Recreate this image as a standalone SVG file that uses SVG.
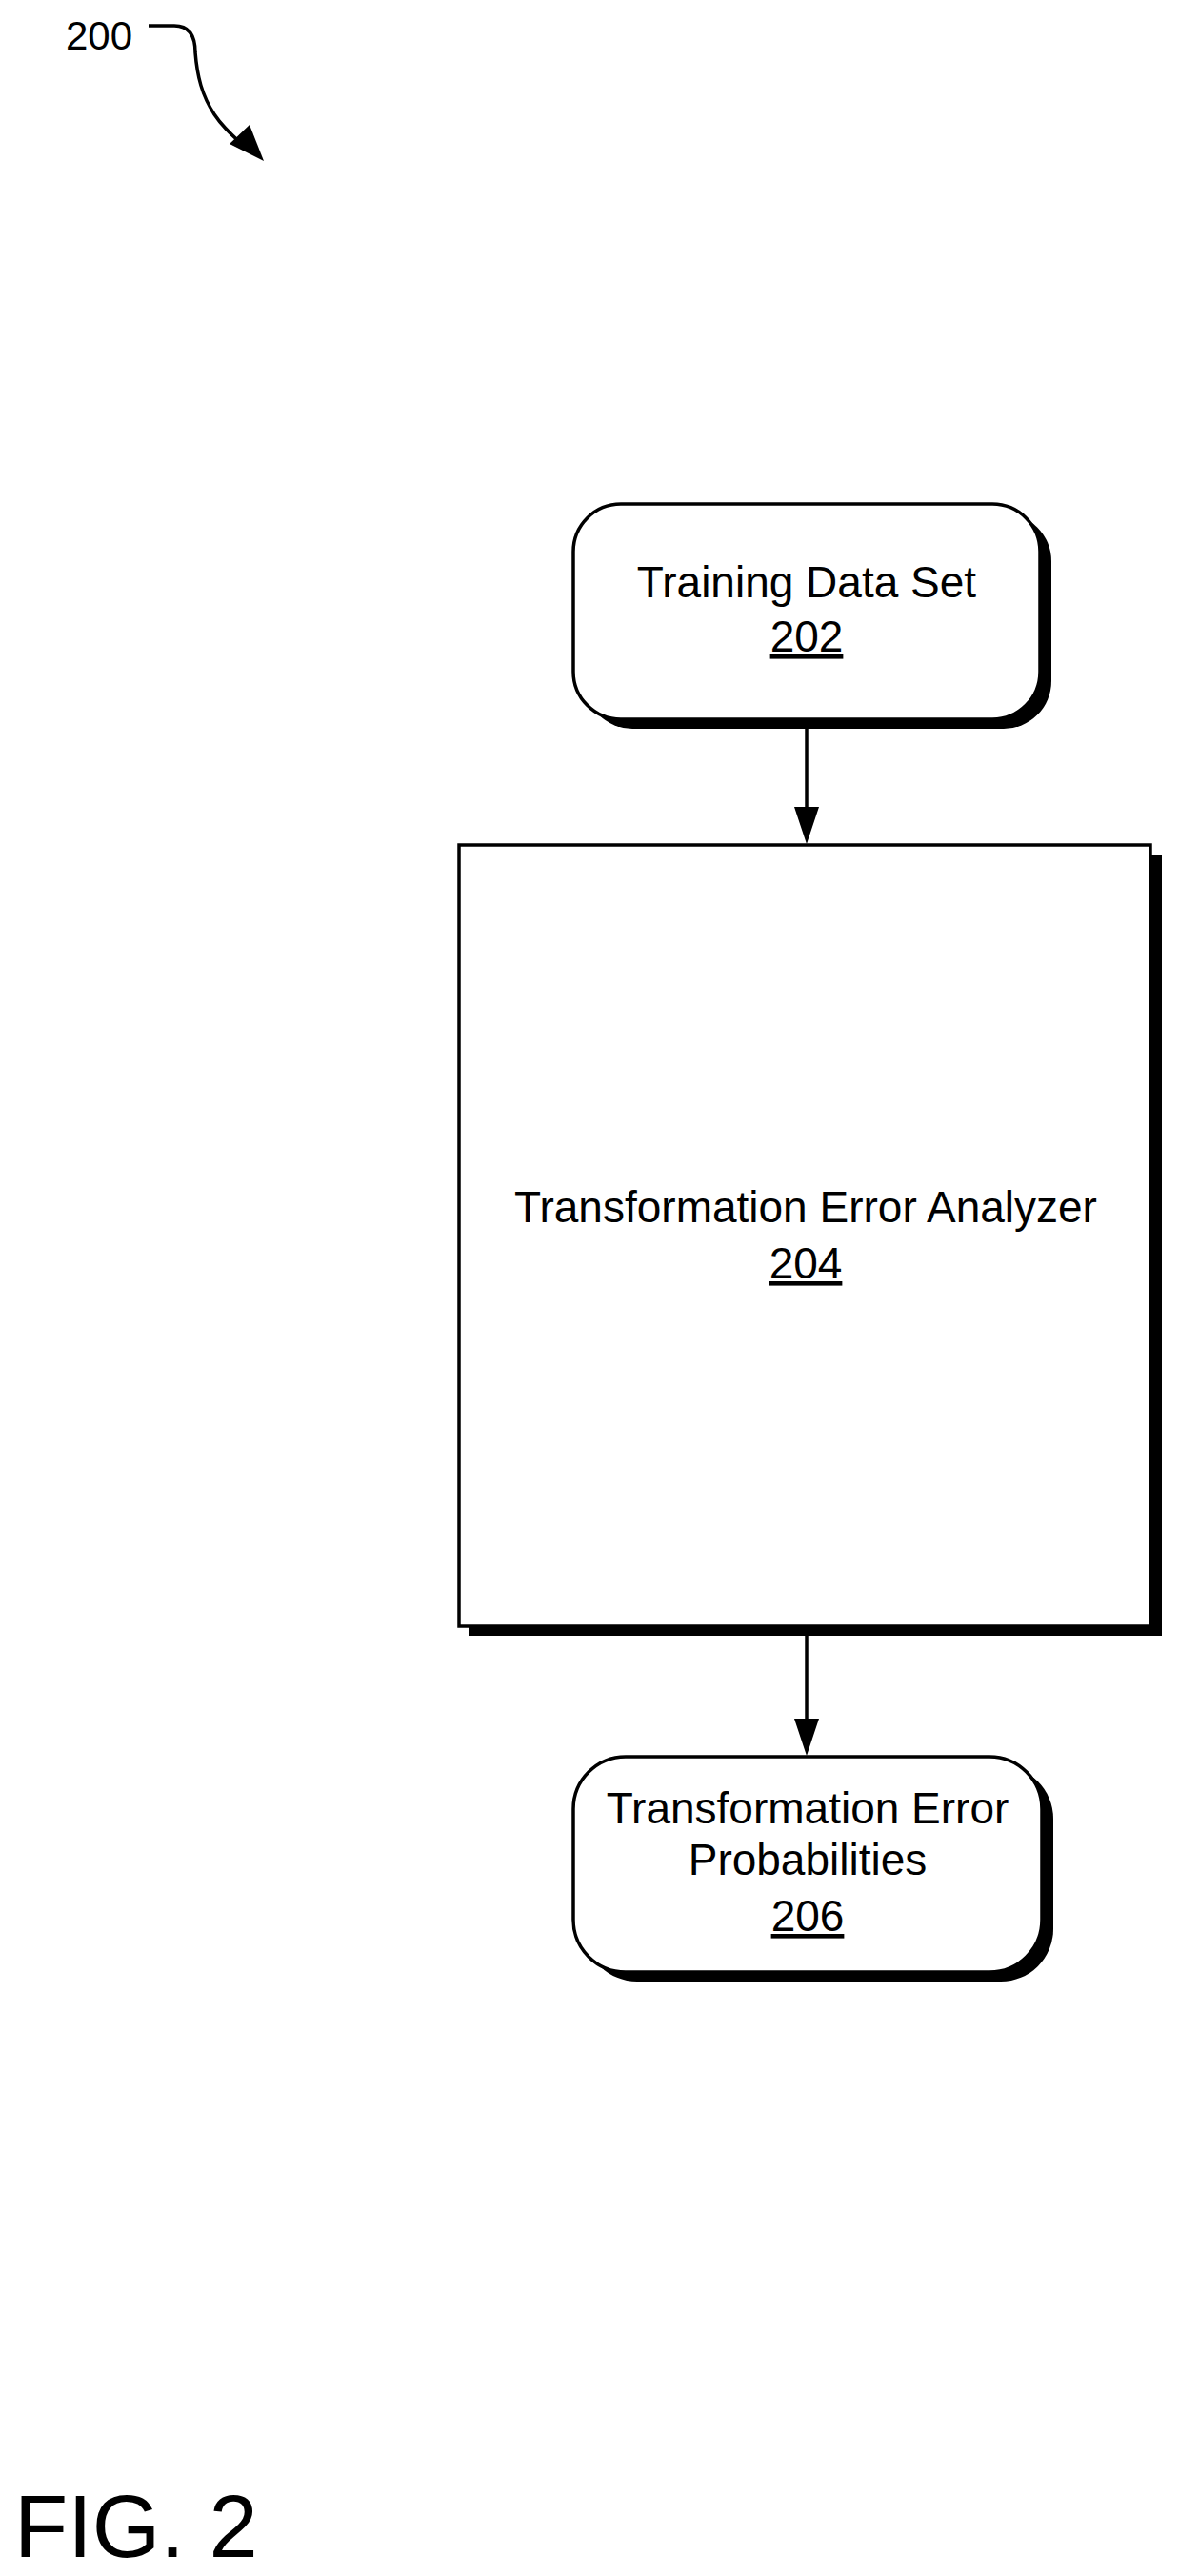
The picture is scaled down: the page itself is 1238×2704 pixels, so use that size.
<svg xmlns="http://www.w3.org/2000/svg" width="1238" height="2704" viewBox="0 0 1238 2704">
<style>
text{font-family:"Liberation Sans",Arial,sans-serif;font-size:46px;fill:#000;text-anchor:middle}
.box{fill:#fff;stroke:#000;stroke-width:3.5}
.sh{fill:#000}
.ln{stroke:#000;stroke-width:3.5;fill:none}
</style>
<rect width="1238" height="2704" fill="#fff"/>
<g id="ref200">
<text x="104" y="52" style="font-size:42px">200</text>
<path class="ln" d="M156,27 L183,27 C200,27 205,40 205,55 C207,80 212,100 225,120 C235,135 245,143 258,155"/>
<path d="M241,151 L262,131 L277,169 Z" fill="#000"/>
</g>
<g id="n202">
<rect class="sh" x="614" y="539" width="490" height="226" rx="50"/>
<rect class="box" x="602" y="529" width="490" height="226" rx="50"/>
<text x="847" y="627">Training Data Set</text>
<text x="847" y="684" text-decoration="underline">202</text>
</g>
<g id="n204">
<rect class="sh" x="492" y="897" width="728" height="820"/>
<rect class="box" x="482" y="887" width="726" height="820"/>
<text x="846" y="1283">Transformation Error Analyzer</text>
<text x="846" y="1342" text-decoration="underline">204</text>
</g>
<g id="n206">
<rect class="sh" x="614" y="1854" width="492" height="226" rx="55"/>
<rect class="box" x="602" y="1844" width="492" height="226" rx="55"/>
<text x="848" y="1914">Transformation Error</text>
<text x="848" y="1968">Probabilities</text>
<text x="848" y="2027" text-decoration="underline">206</text>
</g>
<g id="connectors">
<line class="ln" x1="847" y1="765" x2="847" y2="855"/>
<path d="M834,847 L860,847 L847,886 Z" fill="#000"/>
<line class="ln" x1="847" y1="1717" x2="847" y2="1810"/>
<path d="M834,1804 L860,1804 L847,1843 Z" fill="#000"/>
</g>
<text x="15" y="2684" style="font-size:92px;text-anchor:start">FIG. 2</text>
</svg>
